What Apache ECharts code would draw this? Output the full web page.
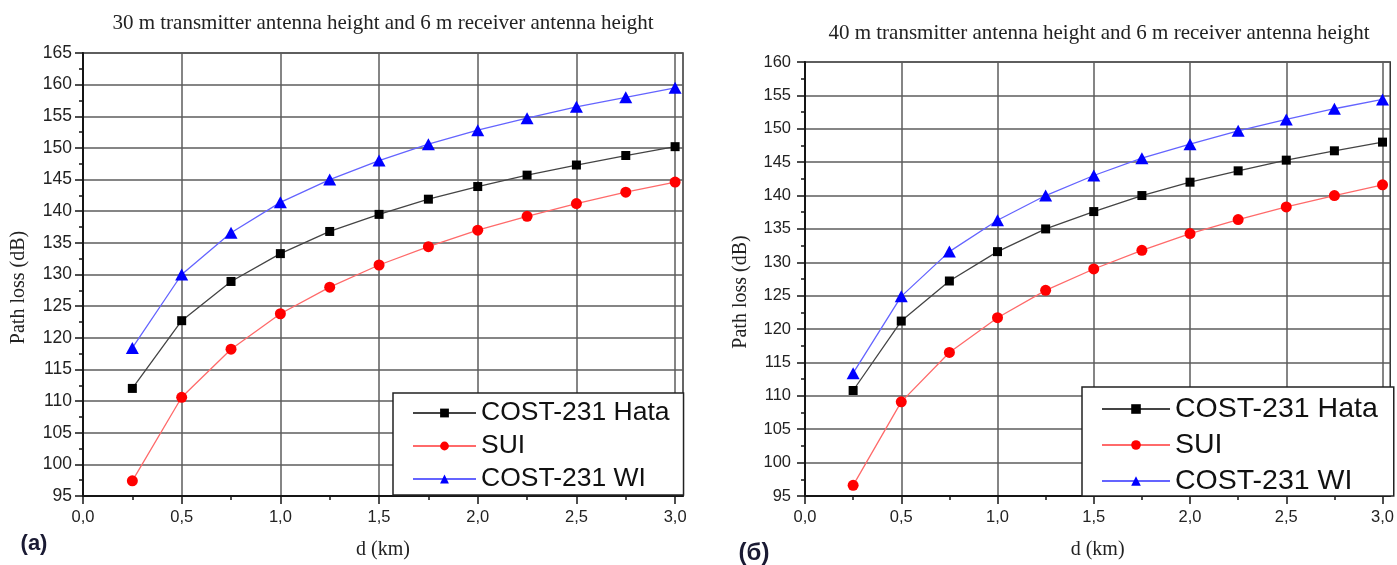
<!DOCTYPE html>
<html>
<head>
<meta charset="utf-8">
<script src="https://cdn.jsdelivr.net/npm/echarts@6/dist/echarts.min.js"></script>
<style>
  html, body { margin: 0; padding: 0; background: #ffffff; }
  #chart { width: 1397px; height: 565px; }
</style>
</head>
<body>
<div id="chart"></div>
<script>
// Distance from the base station (km)
const distances = [0.25, 0.5, 0.75, 1.0, 1.25, 1.5, 1.75, 2.0, 2.25, 2.5, 2.75, 3.0];

// Path loss (dB), 30 m transmitter / 6 m receiver
const hata30 = [112.0, 122.7, 128.9, 133.3, 136.8, 139.5, 141.9, 143.9, 145.7, 147.3, 148.8, 150.2];
const sui30  = [97.4, 110.6, 118.2, 123.8, 128.0, 131.5, 134.4, 137.0, 139.2, 141.2, 143.0, 144.6];
const wi30   = [118.4, 130.0, 136.6, 141.4, 145.0, 148.0, 150.6, 152.8, 154.7, 156.5, 158.0, 159.5];

// Path loss (dB), 40 m transmitter / 6 m receiver
const hata40 = [110.8, 121.2, 127.2, 131.6, 135.0, 137.6, 140.0, 142.0, 143.7, 145.3, 146.7, 148.0];
const sui40  = [96.6, 109.1, 116.5, 121.7, 125.8, 129.0, 131.8, 134.3, 136.4, 138.3, 140.0, 141.6];
const wi40   = [113.4, 124.9, 131.6, 136.3, 140.0, 143.0, 145.6, 147.7, 149.7, 151.4, 153.0, 154.4];

const modelNames = ['COST-231 Hata', 'SUI', 'COST-231 WI'];
const panelTitles = [
  '30 m transmitter antenna height and 6 m receiver antenna height',
  '40 m transmitter antenna height and 6 m receiver antenna height'
];
const panelTags = ['(a)', '(б)'];
const xTickValues = [0, 0.5, 1.0, 1.5, 2.0, 2.5, 3.0];
const yRanges = [[95, 165], [95, 160]];

// Panel frames (pixels)
const panels = [
  { left: 83,  top: 53, width: 600, height: 443, yFont: 17.5, yMargin: 11 },
  { left: 805, top: 62, width: 588, height: 435, yFont: 16.5, yMargin: 14 }
];

const SANS = 'Liberation Sans, Arial, sans-serif';
const SERIF = 'Liberation Serif, Times New Roman, serif';

const styles = {
  'COST-231 Hata': { symbol: 'rect',     size: 9,        marker: '#000000', line: '#444444' },
  'SUI':           { symbol: 'circle',   size: 11,       marker: '#ff0000', line: '#ff6a6a' },
  'COST-231 WI':   { symbol: 'triangle', size: [13, 12], marker: '#0000ff', line: '#6464ff' }
};

function pairs(values) {
  return distances.map((d, i) => [d, values[i]]);
}

function lineSeries(name, values, idx) {
  const s = styles[name];
  return {
    name: name,
    type: 'line',
    xAxisIndex: idx,
    yAxisIndex: idx,
    data: pairs(values),
    symbol: s.symbol,
    symbolSize: s.size,
    showSymbol: true,
    lineStyle: { color: s.line, width: 1.3 },
    itemStyle: { color: s.marker },
    emphasis: { disabled: true },
    animation: false
  };
}

const axisInk = '#151515';
const gridInk = '#5c5c5c';

const xAxes = panels.map((p, i) => ({
  gridIndex: i,
  type: 'value',
  min: 0,
  max: 3.04,
  interval: 0.5,
  axisLine: { show: true, onZero: false, lineStyle: { color: axisInk, width: 2 } },
  axisTick: { show: true, length: 8, customValues: xTickValues, lineStyle: { color: axisInk, width: 1.5 } },
  minorTick: { show: true, splitNumber: 2, length: 4, lineStyle: { color: axisInk, width: 1.5 } },
  axisLabel: {
    customValues: xTickValues,
    margin: 13,
    fontFamily: SANS,
    fontSize: 16.5,
    color: '#222',
    formatter: v => v.toFixed(1).replace('.', ',')
  },
  splitLine: { show: true, lineStyle: { color: gridInk, width: 1.5 } },
  name: 'd (km)',
  nameLocation: 'middle',
  nameGap: 44,
  nameTextStyle: { fontFamily: SERIF, fontSize: 20, color: '#222' }
}));

const yAxes = panels.map((p, i) => ({
  gridIndex: i,
  type: 'value',
  min: yRanges[i][0],
  max: yRanges[i][1],
  interval: 5,
  axisLine: { show: true, lineStyle: { color: axisInk, width: 2 } },
  axisTick: { show: true, length: 8, lineStyle: { color: axisInk, width: 1.5 } },
  minorTick: { show: true, splitNumber: 2, length: 4, lineStyle: { color: axisInk, width: 1.5 } },
  axisLabel: { margin: p.yMargin, fontFamily: SANS, fontSize: p.yFont, color: '#222' },
  splitLine: { show: true, lineStyle: { color: gridInk, width: 1.5 } },
  name: 'Path loss (dB)',
  nameLocation: 'middle',
  nameGap: 54,
  nameTextStyle: { fontFamily: SERIF, fontSize: 20, color: '#222', padding: [0, 26, 0, 0] }
}));

const grids = panels.map(p => ({
  left: p.left, top: p.top, width: p.width, height: p.height,
  show: true, borderColor: '#333333', borderWidth: 1.5, backgroundColor: 'transparent',
  containLabel: false
}));

const legends = [
  {
    left: 393, top: 393,
    itemWidth: 63, itemHeight: 11, itemGap: 5,
    padding: [6, 14, 2, 19],
    textStyle: { fontFamily: SANS, fontSize: 26.5, lineHeight: 28, color: '#111' }
  },
  {
    left: 1082, top: 387,
    itemWidth: 68, itemHeight: 12, itemGap: 6,
    padding: [7, 16, 0, 19],
    textStyle: { fontFamily: SANS, fontSize: 28.5, lineHeight: 30, color: '#111' }
  }
].map(l => Object.assign({
  orient: 'vertical',
  data: modelNames,
  selectedMode: false,
  borderColor: '#222',
  borderWidth: 1.5,
  borderRadius: 0,
  backgroundColor: '#ffffff'
}, l));

const titleY = [23, 33];
const tagPos = [[34, 544, 22], [754, 553, 24]];
const graphics = [];
panels.forEach((p, i) => {
  graphics.push({
    type: 'text',
    x: p.left + p.width / 2,
    y: titleY[i],
    style: {
      text: panelTitles[i],
      align: 'center', verticalAlign: 'middle',
      font: '21px ' + SERIF, fill: '#222'
    }
  });
  graphics.push({
    type: 'text',
    x: tagPos[i][0],
    y: tagPos[i][1],
    style: {
      text: panelTags[i],
      align: 'center', verticalAlign: 'middle',
      font: 'bold ' + tagPos[i][2] + 'px ' + SANS, fill: '#1a1a33'
    }
  });
});

const series = [
  lineSeries('COST-231 Hata', hata30, 0),
  lineSeries('SUI', sui30, 0),
  lineSeries('COST-231 WI', wi30, 0),
  lineSeries('COST-231 Hata', hata40, 1),
  lineSeries('SUI', sui40, 1),
  lineSeries('COST-231 WI', wi40, 1)
];

const chart = echarts.init(document.getElementById('chart'), null, { renderer: 'canvas' });
chart.setOption({
  backgroundColor: '#ffffff',
  animation: false,
  grid: grids,
  xAxis: xAxes,
  yAxis: yAxes,
  legend: legends,
  graphic: graphics,
  series: series
});
</script>
</body>
</html>
